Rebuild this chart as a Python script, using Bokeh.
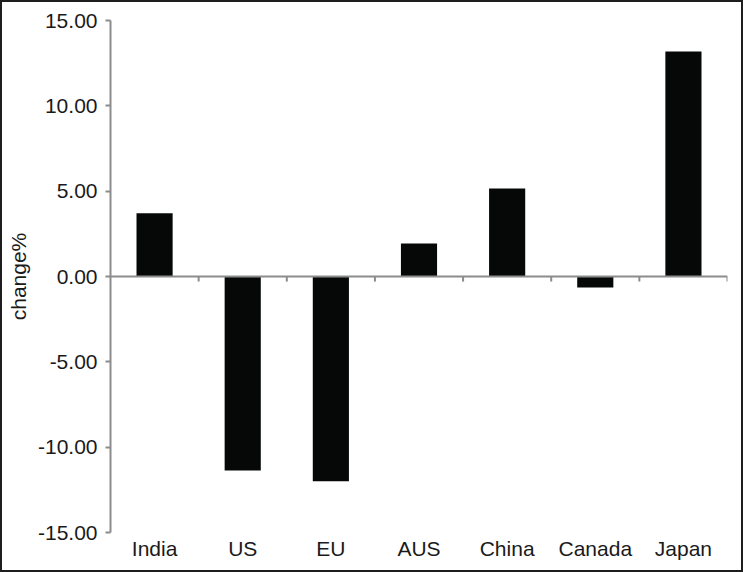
import numpy as np
from bokeh.plotting import figure
from bokeh.models import Range1d, FixedTicker, NumeralTickFormatter, Span, ColumnDataSource, InlineStyleSheet
from bokeh.embed import file_html
from bokeh.resources import INLINE

categories = ["India", "US", "EU", "AUS", "China", "Canada", "Japan"]
change_pct = [3.71, -11.37, -12.0, 1.93, 5.16, -0.64, 13.18]
y_ticks = [-15, -10, -5, 0, 5, 10, 15]

pos = np.arange(len(categories)) + 0.5
src = ColumnDataSource(dict(x=pos, top=change_pct, cat=categories))

FONT = "Liberation Sans"
GRAY = "#8c8c8c"
TXT = "#1a1a1a"
W, H = 743, 572

p = figure(width=W, height=H, output_backend="svg", toolbar_location=None,
           x_range=Range1d(0, len(categories)), y_range=Range1d(y_ticks[0], y_ticks[-1]),
           min_border_left=110, min_border_right=16, min_border_top=20, min_border_bottom=40)
p.outline_line_color = None
p.xgrid.visible = False
p.ygrid.visible = False
p.stylesheets = [InlineStyleSheet(css=":host::after { content: ''; position: absolute; left: 0; top: 0; right: 0; bottom: 0; border: 2px solid #1e1e1e; pointer-events: none; z-index: 10; }")]

p.vbar(x="x", top="top", bottom=0, width=0.41, source=src, fill_color="#060808", line_color=None)

p.add_layout(Span(location=0, dimension="width", line_color=GRAY, line_width=2))
bx = np.arange(1, len(categories) + 1)
p.segment(x0=bx, y0=np.zeros(len(bx)), x1=bx, y1=np.full(len(bx), -0.3), line_color=GRAY, line_width=2)

ya = p.yaxis[0]
ya.ticker = FixedTicker(ticks=y_ticks)
ya.formatter = NumeralTickFormatter(format="0.00")
ya.axis_line_color = GRAY
ya.axis_line_width = 2
ya.major_tick_line_color = GRAY
ya.major_tick_line_width = 2
ya.major_tick_in = 0
ya.major_tick_out = 5
ya.minor_tick_line_color = None
ya.major_label_standoff = 8
ya.major_label_text_font = FONT
ya.major_label_text_font_size = "21px"
ya.major_label_text_color = TXT
ya.axis_label = "change%"
ya.axis_label_text_font = FONT
ya.axis_label_text_font_size = "21px"
ya.axis_label_text_font_style = "normal"
ya.axis_label_text_color = TXT
ya.axis_label_standoff = 5

xa = p.xaxis[0]
xa.ticker = FixedTicker(ticks=list(pos))
xa.major_label_overrides = {float(v): c for v, c in zip(pos, categories)}
xa.axis_line_color = None
xa.major_tick_line_color = None
xa.minor_tick_line_color = None
xa.major_tick_in = 0
xa.major_tick_out = 0
xa.major_label_standoff = 4
xa.major_label_text_font = FONT
xa.major_label_text_font_size = "21px"
xa.major_label_text_color = TXT

open("out.html", "w").write(file_html(p, INLINE))
